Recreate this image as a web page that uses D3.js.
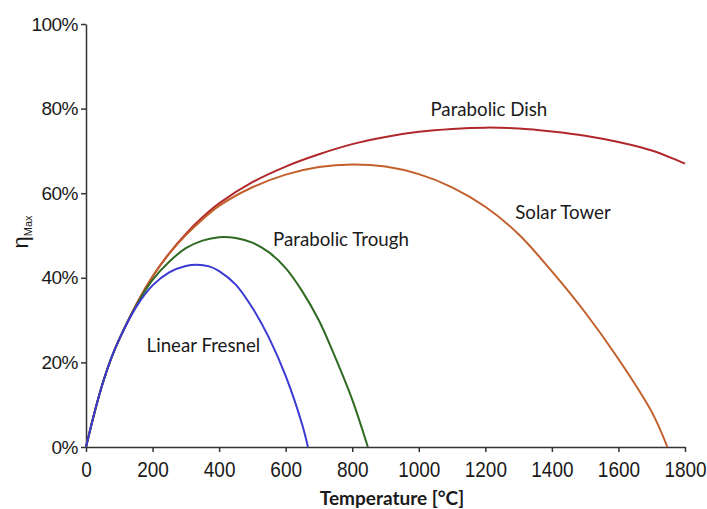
<!DOCTYPE html>
<html>
<head>
<meta charset="utf-8">
<script src="https://cdn.jsdelivr.net/npm/d3@7"></script>
<style>
  body { margin: 0; background: #fff; }
  .tick text { font-family: "Liberation Sans", Arial, sans-serif; fill: #1a1a1a; }
  .curve-label { font-family: Lato, "Open Sans", sans-serif; fill: #1a1a1a; }
</style>
</head>
<body>
<div id="chart"></div>
<script>
'use strict';

// temperatures in °C, efficiencies in %
const dishT   = [0, 25, 50, 75, 100, 150, 200, 250, 300, 350, 400, 500, 600, 700, 800, 900, 1000, 1100, 1200, 1300, 1400, 1500, 1600, 1700, 1800];
const dishEta = [0, 8, 15, 20.8, 25.5, 33.5, 40.3, 45.8, 50.4, 54.3, 57.6, 62.6, 66.3, 69.2, 71.6, 73.3, 74.5, 75.2, 75.5, 75.3, 74.6, 73.6, 72.1, 70.1, 67];

const towerT   = [0, 25, 50, 75, 100, 150, 200, 250, 300, 350, 400, 500, 600, 700, 800, 900, 1000, 1100, 1200, 1300, 1400, 1500, 1600, 1700, 1747];
const towerEta = [0, 8, 15, 20.8, 25.5, 33.5, 40.3, 45.7, 50.1, 53.8, 57.0, 61.4, 64.4, 66.2, 66.8, 66.3, 64.5, 61.4, 56.8, 50.3, 41.5, 31.8, 20.8, 8.3, 0];

const troughT   = [0, 25, 50, 75, 100, 150, 200, 250, 300, 350, 400, 450, 500, 550, 600, 650, 700, 750, 800, 847];
const troughEta = [0, 8, 15, 20.8, 25.5, 33.3, 39.5, 43.8, 47, 48.8, 49.6, 49.4, 48.3, 46, 42.3, 36.8, 29.9, 21, 11.2, 0];

const fresnelT   = [0, 25, 50, 75, 100, 150, 200, 250, 300, 333, 370, 400, 450, 500, 550, 600, 650, 667];
const fresnelEta = [0, 8, 15, 20.8, 25.5, 33, 38.2, 41.3, 42.8, 43.1, 42.7, 41.6, 38.4, 32.9, 25.8, 16.8, 5.2, 0];

const seriesNames = ['Parabolic Dish', 'Solar Tower', 'Parabolic Trough', 'Linear Fresnel'];
const seriesColors = ['#b0282c', '#c2602c', '#2f6a22', '#3a3ad2'];

const xTicks = [0, 200, 400, 600, 800, 1000, 1200, 1400, 1600, 1800];
const yTicks = [0, 20, 40, 60, 80, 100];

// where each curve label sits, in data units (left x, baseline y)
const labelT   = [1035, 1290, 562, 182];
const labelEta = [78.3, 53.9, 47.4, 22.5];

const width = 707, height = 509;
const svg = d3.select('#chart').append('svg').attr('width', width).attr('height', height);

const x = d3.scaleLinear().domain([0, 1800]).range([86, 685]);
const y = d3.scaleLinear().domain([0, 100]).range([447, 24]);

const xAxis = svg.append('g')
  .attr('transform', 'translate(0,' + y(0) + ')')
  .call(d3.axisBottom(x).tickValues(xTicks).tickFormat(d3.format('d')).tickSize(5).tickSizeOuter(0).tickPadding(7));
// the x labels in the picture are a little taller than wide
xAxis.selectAll('text').attr('font-size', 19).attr('transform', 'scale(1,1.17)');

const yAxis = svg.append('g')
  .attr('transform', 'translate(' + x(0) + ',0)')
  .call(d3.axisLeft(y).tickValues(yTicks).tickFormat(d => d + '%').tickSize(5).tickSizeOuter(0).tickPadding(3));
yAxis.selectAll('text').attr('font-size', 19).attr('letter-spacing', -0.5);

svg.selectAll('.domain, .tick line').attr('stroke', '#333').attr('stroke-width', 1.5);

const line = d3.line()
  .x(d => x(d[0]))
  .y(d => y(d[1]))
  .curve(d3.curveCatmullRom.alpha(0.5));

const series = [
  d3.zip(dishT, dishEta),
  d3.zip(towerT, towerEta),
  d3.zip(troughT, troughEta),
  d3.zip(fresnelT, fresnelEta)
];

series.forEach(function (pts, i) {
  svg.append('path')
    .attr('d', line(pts))
    .attr('fill', 'none')
    .attr('stroke', seriesColors[i])
    .attr('stroke-width', 2);
});

seriesNames.forEach(function (name, i) {
  svg.append('text')
    .attr('class', 'curve-label')
    .attr('x', x(labelT[i]))
    .attr('y', y(labelEta[i]))
    .attr('font-size', 18.7)
    .text(name);
});

// axis titles
svg.append('text')
  .attr('x', 392)
  .attr('y', 505)
  .attr('text-anchor', 'middle')
  .attr('font-family', 'Lato, sans-serif')
  .attr('font-weight', 'bold')
  .attr('font-size', 19)
  .attr('fill', '#1a1a1a')
  .text('Temperature [°C]');

const yTitle = svg.append('text')
  .attr('transform', 'translate(28,232) rotate(-90)')
  .attr('text-anchor', 'middle')
  .attr('font-family', '"Liberation Sans", Arial, sans-serif')
  .attr('fill', '#1a1a1a');
yTitle.append('tspan').attr('font-size', 22).text('η');
yTitle.append('tspan').attr('font-size', 11).attr('dy', 4).text('Max');
</script>
</body>
</html>
